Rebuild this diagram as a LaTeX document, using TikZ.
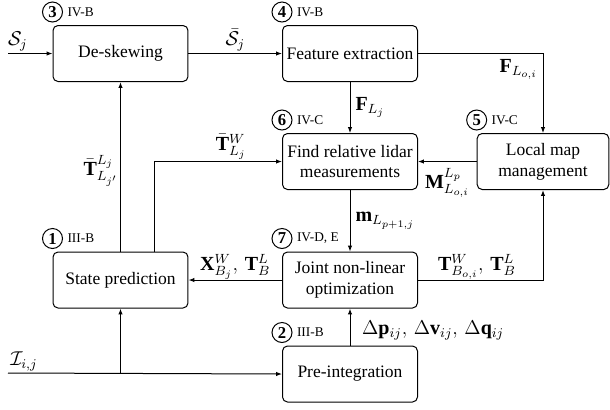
\documentclass[tikz,border=0pt]{standalone}
\usepackage{amsmath}
\usepackage{amssymb}
\usepackage{fontspec}
\setmainfont{Liberation Serif}
\usepackage{tikz}
\usetikzlibrary{arrows.meta,positioning,calc}
\tikzstyle{block} = [draw=black, line width=0.6pt, rectangle, rounded corners=3pt, minimum width=81pt, minimum height=33.6pt, align=center, inner sep=2pt, font=\fontsize{10.5}{12.5}\selectfont]
\tikzstyle{numc} = [draw=black, line width=0.6pt, circle, minimum size=12pt, inner sep=0pt, font=\bfseries]
\tikzstyle{sec} = [inner sep=1pt, font=\footnotesize]
\tikzstyle{conn} = [line width=0.6pt, -{Latex[length=3.5pt,width=2.6pt]}]
\tikzstyle{lab} = [font=\large, inner sep=1pt]

\begin{document}
\begin{tikzpicture}[x=0.6pt, y=-0.6pt]
	\useasboundingbox (0,0) rectangle (610,409);
	% blocchi
	\node [block] (deskew) at (120.5,53.5) {De-skewing};
	\node [block] (feat) at (350,53.5) {Feature extraction};
	\node [block] (find) at (350,161.5) {Find relative lidar\\measurements};
	\node [block, minimum width=79pt] (lmap) at (543,161.5) {Local map\\management};
	\node [block] (state) at (120.5,280) {State prediction};
	\node [block] (joint) at (350,280) {Joint non-linear\\optimization};
	\node [block] (preint) at (350,374) {Pre-integration};
	% numeri e sezioni
	\node [numc] (c3) at ($(deskew.north west)+(0,-13)$) {3};
	\node [sec, right=1.5pt of c3] {IV-B};
	\node [numc] (c4) at ($(feat.north west)+(0,-13)$) {4};
	\node [sec, right=1.5pt of c4] {IV-B};
	\node [numc] (c6) at ($(find.north west)+(0,-13)$) {6};
	\node [sec, right=1.5pt of c6] {IV-C};
	\node [numc] (c5) at ($(lmap.north west)+(0,-13)$) {5};
	\node [sec, right=1.5pt of c5] {IV-C};
	\node [numc] (c1) at ($(state.north west)+(0,-13)$) {1};
	\node [sec, right=1.5pt of c1] {III-B};
	\node [numc] (c7) at ($(joint.north west)+(0,-13)$) {7};
	\node [sec, right=1.5pt of c7] {IV-D, E};
	\node [numc] (c2) at ($(preint.north west)+(0,-13)$) {2};
	\node [sec, right=1.5pt of c2] {III-B};
	% ingressi
	\coordinate (sin) at (8,53.5);
	\coordinate (iin) at (8,373);
	\coordinate (ijunc) at (state.south |- iin);
	\coordinate (tw) at ($(state.north)+(34,0)$);
	% collegamenti
	\draw [conn] (sin) -- node [lab, above, pos=0.22] {$\mathcal{S}_j$} (deskew);
	\draw [conn] (deskew) -- node [lab, above] {$\bar{\mathcal{S}}_j$} (feat);
	\draw [conn] (feat.east) -| node [lab, below left, inner sep=3pt] {$\mathbf{F}_{L_{o,i}}$} (lmap.north);
	\draw [conn] (feat) -- node [lab, right, inner sep=3pt] {$\mathbf{F}_{L_j}$} (find);
	\draw [conn] (lmap) -- node [lab, below, yshift=-3pt] {$\mathbf{M}^{L_p}_{L_{o,i}}$} (find);
	\draw [conn] (find) -- node [lab, right, inner sep=3pt] {$\mathbf{m}_{L_{p+1,j}}$} (joint);
	\draw [conn] (joint) -- node [lab, above, inner sep=0pt] {$\mathbf{X}^W_{B_j},\,\mathbf{T}^L_B$} (state);
	\draw [conn] (joint.east) -| node [lab, above, pos=0.236, inner sep=0pt] {$\mathbf{T}^W_{B_{o,i}},\,\mathbf{T}^L_B$} (lmap.south);
	\draw [conn] (state.north) -- node [lab, left, pos=0.476] {$\bar{\mathbf{T}}^{L_j}_{L_{j'}}$} (deskew.south);
	\draw [conn] (tw) |- node [lab, above, pos=0.8] {$\bar{\mathbf{T}}^W_{L_j}$} (find.west);
	\draw [conn] (iin) -- node [lab, above, pos=0.058] {$\mathcal{I}_{i,j}$} (preint.west);
	\draw [conn] (ijunc) -- (state.south);
	\draw [conn] (preint) -- node [lab, right, inner sep=0pt, xshift=7pt, pos=0.4] {$\Delta\mathbf{p}_{ij},\,\Delta\mathbf{v}_{ij},\,\Delta\mathbf{q}_{ij}$} (joint);
\end{tikzpicture}
\end{document}
